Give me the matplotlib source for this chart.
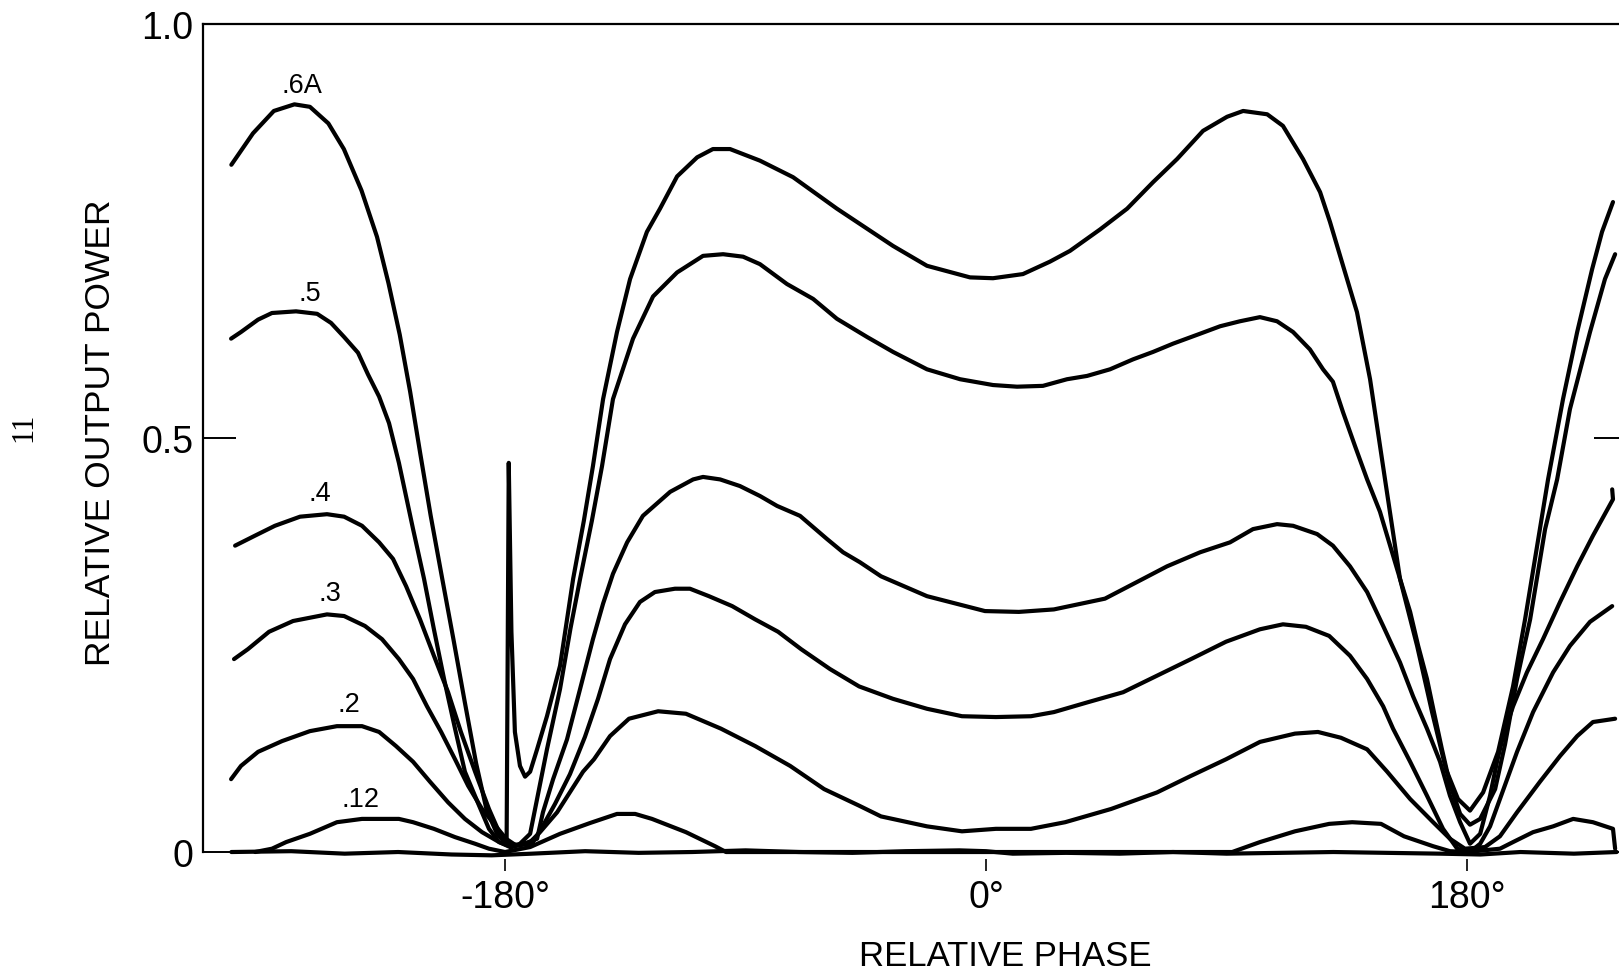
import numpy as np
import matplotlib
matplotlib.use("Agg")
import matplotlib.pyplot as plt

plt.rcParams['font.family'] = ['Liberation Sans', 'DejaVu Sans']

# relative phase (deg), relative output power
curve_6a = [(-282.4, 0.830), (-274.3, 0.868), (-266.5, 0.895), (-258.8, 0.903), (-253.0, 0.900),
            (-246.1, 0.880), (-240.3, 0.849), (-233.7, 0.799), (-227.9, 0.743), (-223.6, 0.687),
            (-219.4, 0.625), (-215.5, 0.556), (-211.7, 0.481), (-207.8, 0.406), (-203.6, 0.332),
            (-199.3, 0.257), (-195.1, 0.182), (-190.8, 0.107), (-186.9, 0.051), (-183.0, 0.022),
            (-179.4, 0.010), (-178.6, 0.470), (-177.6, 0.266), (-176.3, 0.145), (-174.4, 0.104),
            (-172.5, 0.091), (-170.6, 0.097), (-168.0, 0.124), (-164.3, 0.164), (-159.4, 0.225),
            (-154.5, 0.330), (-150.5, 0.400), (-147.1, 0.466), (-143.3, 0.547), (-138.1, 0.628),
            (-133.2, 0.692), (-126.9, 0.749), (-122.0, 0.777), (-115.6, 0.816), (-108.1, 0.839),
            (-102.2, 0.849), (-95.8, 0.849), (-84.6, 0.835), (-72.2, 0.815), (-55.8, 0.777),
            (-34.8, 0.732), (-22.1, 0.708), (-6.0, 0.694), (2.6, 0.693), (13.8, 0.698),
            (23.9, 0.713), (31.4, 0.726), (42.7, 0.752), (52.8, 0.777), (62.5, 0.809),
            (71.5, 0.837), (81.2, 0.871), (90.2, 0.888), (96.2, 0.895), (105.2, 0.891),
            (111.1, 0.877), (118.6, 0.837), (125.0, 0.797), (128.7, 0.761), (133.6, 0.708),
            (138.8, 0.652), (143.7, 0.571), (149.3, 0.450), (154.9, 0.330), (161.3, 0.249),
            (166.9, 0.169), (172.1, 0.100), (176.6, 0.064), (181.1, 0.050), (186.0, 0.072),
            (191.6, 0.121), (197.2, 0.200), (201.7, 0.281), (210.3, 0.450), (215.9, 0.547),
            (221.2, 0.628), (226.8, 0.704), (230.5, 0.749), (234.6, 0.785)]

curve_5 = [(-282.5, 0.620), (-278.8, 0.628), (-272.4, 0.643), (-267.2, 0.651), (-258.2, 0.653),
           (-250.3, 0.650), (-245.1, 0.639), (-240.2, 0.622), (-235.0, 0.603), (-231.3, 0.577),
           (-227.1, 0.550), (-223.4, 0.518), (-219.7, 0.470), (-214.4, 0.390), (-210.3, 0.330),
           (-206.6, 0.269), (-202.8, 0.209), (-198.7, 0.149), (-195.0, 0.097), (-189.7, 0.056),
           (-186.0, 0.028), (-182.2, 0.012), (-178.1, 0.006), (-174.4, 0.010), (-170.6, 0.022),
           (-168.0, 0.064), (-164.3, 0.124), (-159.4, 0.197), (-155.5, 0.270), (-151.9, 0.330),
           (-147.5, 0.400), (-143.7, 0.466), (-139.6, 0.547), (-132.1, 0.620), (-124.6, 0.671),
           (-115.6, 0.700), (-105.9, 0.720), (-98.4, 0.722), (-90.9, 0.719), (-84.6, 0.710),
           (-74.5, 0.686), (-64.7, 0.668), (-55.8, 0.644), (-44.5, 0.622), (-34.8, 0.604),
           (-22.1, 0.583), (-9.7, 0.571), (2.6, 0.564), (11.6, 0.562), (21.3, 0.563),
           (30.3, 0.571), (37.8, 0.575), (46.4, 0.583), (55.0, 0.595), (62.5, 0.604),
           (70.0, 0.614), (80.1, 0.626), (87.6, 0.635), (95.0, 0.641), (102.5, 0.646),
           (108.9, 0.641), (114.9, 0.628), (121.2, 0.607), (126.1, 0.583), (129.8, 0.568),
           (133.6, 0.531), (138.1, 0.490), (142.6, 0.450), (147.4, 0.411), (151.2, 0.370),
           (154.9, 0.330), (158.7, 0.290), (161.7, 0.249), (165.0, 0.209), (167.6, 0.169),
           (170.6, 0.124), (173.6, 0.082), (177.4, 0.046), (181.1, 0.033), (184.9, 0.040),
           (190.5, 0.076), (194.2, 0.130), (198.7, 0.209), (203.6, 0.281), (209.2, 0.390),
           (213.7, 0.450), (218.5, 0.535), (226.0, 0.628), (231.6, 0.692), (235.4, 0.722)]

curve_4 = [(-281.0, 0.370), (-273.6, 0.382), (-266.1, 0.394), (-256.7, 0.405), (-246.6, 0.408),
           (-240.2, 0.405), (-233.5, 0.394), (-227.1, 0.374), (-221.9, 0.354), (-217.0, 0.321),
           (-211.8, 0.281), (-206.6, 0.237), (-201.3, 0.193), (-196.5, 0.145), (-191.2, 0.097),
           (-186.0, 0.052), (-182.2, 0.024), (-178.1, 0.010), (-174.4, 0.008), (-168.0, 0.016),
           (-165.8, 0.048), (-162.0, 0.088), (-156.8, 0.136), (-151.9, 0.197), (-147.1, 0.257),
           (-143.3, 0.300), (-139.6, 0.336), (-134.3, 0.374), (-128.4, 0.406), (-118.2, 0.435),
           (-109.6, 0.450), (-105.9, 0.453), (-99.5, 0.450), (-92.1, 0.442), (-84.6, 0.430),
           (-78.2, 0.418), (-69.6, 0.406), (-59.5, 0.378), (-53.5, 0.362), (-47.2, 0.350),
           (-39.3, 0.333), (-22.1, 0.309), (-0.4, 0.291), (12.3, 0.290), (25.4, 0.293),
           (44.5, 0.306), (58.8, 0.330), (67.7, 0.345), (80.1, 0.362), (91.3, 0.374),
           (99.9, 0.390), (108.9, 0.396), (114.9, 0.394), (123.9, 0.384), (129.8, 0.370),
           (136.2, 0.345), (142.6, 0.314), (148.6, 0.273), (154.9, 0.229), (159.8, 0.188),
           (165.0, 0.149), (169.9, 0.109), (173.6, 0.068), (177.4, 0.036), (181.1, 0.010),
           (184.9, 0.022), (188.6, 0.068), (191.2, 0.109), (193.5, 0.140), (197.2, 0.176),
           (202.4, 0.217), (208.4, 0.257), (214.8, 0.302), (221.2, 0.345), (227.1, 0.382),
           (234.6, 0.426), (234.3, 0.438)]

curve_3 = [(-281.4, 0.233), (-276.2, 0.245), (-268.3, 0.266), (-259.3, 0.279), (-246.6, 0.287),
           (-240.2, 0.285), (-232.4, 0.273), (-226.0, 0.257), (-219.7, 0.233), (-214.4, 0.209),
           (-209.2, 0.176), (-203.9, 0.145), (-198.7, 0.112), (-193.8, 0.080), (-188.6, 0.052),
           (-183.4, 0.031), (-179.6, 0.016), (-175.9, 0.008), (-169.9, 0.010), (-166.1, 0.030),
           (-161.3, 0.058), (-155.7, 0.094), (-150.1, 0.139), (-145.2, 0.185), (-140.7, 0.233),
           (-135.1, 0.275), (-129.5, 0.302), (-123.9, 0.314), (-116.4, 0.318), (-110.8, 0.318),
           (-103.7, 0.309), (-95.0, 0.297), (-86.4, 0.281), (-77.8, 0.266), (-69.2, 0.245),
           (-58.4, 0.221), (-47.5, 0.200), (-34.8, 0.185), (-22.1, 0.173), (-9.0, 0.164),
           (3.7, 0.163), (16.8, 0.164), (25.4, 0.169), (38.2, 0.181), (51.3, 0.193),
           (64.0, 0.213), (76.7, 0.233), (89.8, 0.254), (102.5, 0.269), (111.1, 0.275),
           (119.7, 0.272), (128.4, 0.261), (136.2, 0.237), (142.6, 0.209), (148.6, 0.176),
           (152.3, 0.149), (158.7, 0.109), (165.0, 0.068), (171.0, 0.028), (176.3, 0.004),
           (181.1, 0.000), (184.9, 0.010), (188.6, 0.031), (192.3, 0.064), (198.7, 0.121),
           (204.7, 0.169), (212.2, 0.217), (218.5, 0.249), (226.0, 0.278), (234.3, 0.297)]

curve_2 = [(-282.5, 0.088), (-278.8, 0.104), (-272.4, 0.121), (-263.4, 0.134), (-253.0, 0.146),
           (-242.9, 0.152), (-233.5, 0.152), (-227.1, 0.145), (-220.8, 0.128), (-214.4, 0.109),
           (-208.1, 0.085), (-201.3, 0.060), (-195.0, 0.040), (-188.6, 0.024), (-182.2, 0.012),
           (-177.4, 0.006), (-170.6, 0.012), (-166.9, 0.024), (-160.5, 0.048), (-150.8, 0.097),
           (-146.7, 0.112), (-140.7, 0.140), (-133.6, 0.161), (-122.7, 0.170), (-112.3, 0.167),
           (-99.2, 0.149), (-86.4, 0.128), (-73.3, 0.104), (-60.6, 0.076), (-47.5, 0.056),
           (-39.3, 0.043), (-22.1, 0.031), (-9.0, 0.025), (3.7, 0.028), (16.8, 0.028),
           (29.6, 0.036), (46.8, 0.052), (64.0, 0.072), (76.7, 0.092), (89.8, 0.112),
           (102.5, 0.133), (115.6, 0.143), (124.2, 0.145), (132.8, 0.138), (142.6, 0.124),
           (150.1, 0.097), (158.7, 0.064), (167.3, 0.036), (173.6, 0.016), (179.2, 0.004),
           (186.7, 0.006), (192.3, 0.019), (198.7, 0.048), (207.3, 0.085), (214.8, 0.116),
           (221.2, 0.140), (227.1, 0.157), (235.4, 0.161)]

curve_12 = [(-273.5, 0.000), (-267.2, 0.004), (-261.9, 0.012), (-253.0, 0.022), (-242.9, 0.036),
            (-233.5, 0.040), (-227.1, 0.040), (-219.7, 0.040), (-214.4, 0.036), (-206.6, 0.028),
            (-198.7, 0.018), (-191.2, 0.010), (-186.0, 0.004), (-180.0, 0.000), (-170.6, 0.006),
            (-159.4, 0.022), (-148.2, 0.035), (-138.1, 0.046), (-131.3, 0.046), (-125.0, 0.040),
            (-112.3, 0.024), (-101.4, 0.007), (-97.3, 0.000), (92.1, 0.000), (102.5, 0.012),
            (115.6, 0.025), (128.4, 0.034), (137.0, 0.036), (147.8, 0.034), (156.4, 0.019),
            (167.3, 0.007), (173.6, 0.001), (180.0, 0.000), (192.3, 0.004), (197.2, 0.012),
            (204.7, 0.024), (212.2, 0.031), (219.7, 0.040), (227.1, 0.036), (234.6, 0.028),
            (235.4, 0.004)]

# flat trace along zero
curve_0 = [(-282.4, 0.000), (-260, 0.001), (-240, -0.002), (-220, 0.000), (-200, -0.003),
           (-185, -0.004), (-170, -0.002), (-150, 0.001), (-130, -0.001), (-110, 0.000),
           (-90, 0.002), (-70, 0.000), (-50, -0.001), (-30, 0.001), (-10, 0.002), (0, 0.001),
           (10, -0.002), (30, -0.001), (50, -0.002), (70, 0.000), (90, -0.002), (110, -0.001),
           (130, 0.000), (150, -0.001), (170, -0.002), (185, -0.003), (200, 0.000),
           (220, -0.002), (236, 0.000)]

curves = [curve_6a, curve_5, curve_4, curve_3, curve_2, curve_12, curve_0]

curve_labels = ['.6A', '.5', '.4', '.3', '.2', '.12']
label_x = [-255.8, -253.0, -249.2, -245.5, -238.4, -233.9]
label_y = [0.926, 0.675, 0.434, 0.313, 0.179, 0.064]

x_ticks = [-180, 0, 180]
x_tick_labels = ['-180°', '0°', '180°']
y_ticks = [0, 0.5, 1.0]
y_tick_labels = ['0', '0.5', '1.0']

fig = plt.figure(figsize=(16.19, 9.70), dpi=100)
ax = fig.add_axes([0.1254, 0.1206, 0.8798, 0.8536])

for pts in curves:
    x, y = np.array(pts).T
    ax.plot(x, y, color='black', lw=3.0, solid_joinstyle='round',
            solid_capstyle='round', clip_on=False)

for lab, lx, ly in zip(curve_labels, label_x, label_y):
    ax.text(lx, ly, lab, ha='center', va='center', fontsize=19.5)

ax.set_xlim(-293, 240)
ax.set_ylim(0, 1)

ax.spines['right'].set_visible(False)
ax.spines['bottom'].set_visible(False)
ax.spines['bottom'].set_position(('outward', 5))
ax.spines['left'].set_linewidth(1.6)
ax.spines['top'].set_linewidth(1.6)

ax.set_xticks(x_ticks)
ax.set_xticklabels(x_tick_labels)
ax.tick_params(axis='x', direction='out', length=8.6, width=1.2, pad=6, labelsize=27)
ax.set_yticks(y_ticks)
ax.set_yticklabels(y_tick_labels)
ax.tick_params(axis='y', direction='in', length=24, width=1.4, pad=7, labelsize=27, right=True)

# axis titles placed by hand, as on the original sheet
fig.text(1005 / 1619, 4 / 970, 'RELATIVE PHASE', ha='center', va='baseline', fontsize=25)
fig.text(101 / 1619, 1 - 433 / 970, 'RELATIVE OUTPUT POWER', ha='center', va='center',
         rotation=90, fontsize=25.5)
fig.text(24 / 1619, 1 - 427 / 970, '11', ha='center', va='center', rotation=90,
         fontsize=22, family=['Liberation Serif', 'DejaVu Serif'])

fig.savefig('out.png', dpi=100)
